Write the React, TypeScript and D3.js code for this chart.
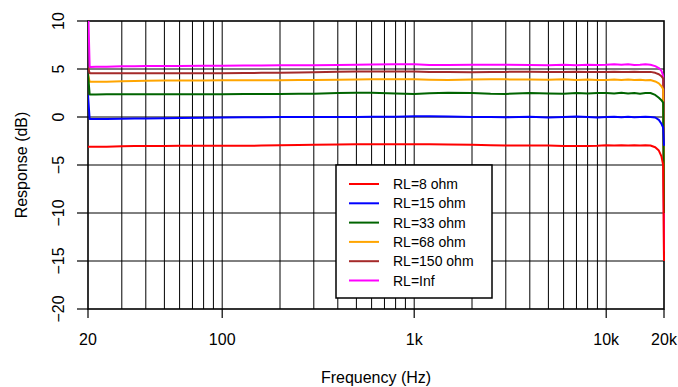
import React from "react";
import * as d3 from "d3";

const W = 678;
const H = 387;

const freqs = [20, 20.4, 22, 25, 30, 35, 40, 50, 60, 80, 100, 130, 160, 200, 250, 300, 400, 500, 600, 800, 1000, 1200, 1500, 2000, 2500, 3000, 4000, 5000, 6000, 7000, 8000, 9000, 10000, 11000, 12000, 13000, 14000, 15000, 16000, 17000, 18000, 18800, 19400, 19800, 20000];

const rl8 = [-3.1, -3.1, -3.1, -3.1, -3.05, -3.02, -3.02, -3.02, -3.0, -3.0, -3.0, -3.0, -2.98, -2.95, -2.92, -2.9, -2.86, -2.85, -2.85, -2.85, -2.85, -2.85, -2.86, -2.9, -2.95, -2.97, -2.97, -2.98, -3.02, -3.03, -3.03, -3.0, -2.95, -2.98, -2.93, -2.97, -2.95, -2.96, -2.93, -2.97, -3.15, -3.5, -4.1, -5.0, -15];
const rl15 = [2.3, -0.2, -0.2, -0.2, -0.18, -0.16, -0.15, -0.12, -0.1, -0.08, -0.05, -0.03, -0.02, 0.0, 0.0, 0.0, 0.0, 0.0, 0.02, 0.03, 0.07, 0.07, 0.06, 0.0, 0.0, -0.02, 0.02, -0.05, 0.0, 0.05, 0.0, -0.05, 0.0, 0.02, -0.03, 0.02, -0.02, 0.0, 0.02, 0.0, -0.05, -0.3, -0.7, -1.1, -3];
const rl33 = [4.5, 2.35, 2.35, 2.36, 2.36, 2.37, 2.37, 2.38, 2.38, 2.38, 2.38, 2.39, 2.4, 2.4, 2.41, 2.42, 2.5, 2.52, 2.53, 2.45, 2.4, 2.48, 2.52, 2.5, 2.42, 2.4, 2.5, 2.45, 2.42, 2.5, 2.45, 2.5, 2.5, 2.45, 2.52, 2.45, 2.5, 2.42, 2.5, 2.5, 2.3, 2.0, 1.75, 1.5, -10];
const rl68 = [4.45, 3.68, 3.68, 3.68, 3.72, 3.75, 3.78, 3.8, 3.8, 3.81, 3.82, 3.82, 3.83, 3.84, 3.85, 3.85, 3.88, 3.9, 3.92, 3.93, 3.93, 3.88, 3.85, 3.9, 3.92, 3.92, 3.9, 3.88, 3.92, 3.85, 3.9, 3.85, 3.85, 3.9, 3.85, 3.9, 3.85, 3.88, 3.82, 3.85, 3.7, 3.5, 3.2, 2.9, -9];
const rl150 = [5.2, 4.55, 4.55, 4.55, 4.55, 4.56, 4.56, 4.57, 4.57, 4.57, 4.57, 4.58, 4.6, 4.6, 4.63, 4.65, 4.72, 4.74, 4.75, 4.75, 4.75, 4.7, 4.68, 4.65, 4.68, 4.7, 4.72, 4.7, 4.68, 4.72, 4.68, 4.7, 4.68, 4.72, 4.68, 4.7, 4.72, 4.68, 4.7, 4.7, 4.6, 4.45, 4.25, 4.0, -8];
const rlInf = [12, 5.22, 5.23, 5.24, 5.28, 5.29, 5.3, 5.3, 5.32, 5.34, 5.35, 5.36, 5.37, 5.38, 5.39, 5.4, 5.42, 5.45, 5.48, 5.5, 5.5, 5.42, 5.42, 5.45, 5.45, 5.45, 5.42, 5.4, 5.45, 5.4, 5.45, 5.42, 5.45, 5.5, 5.45, 5.5, 5.42, 5.45, 5.5, 5.45, 5.3, 5.1, 4.8, 4.3, -14];

const seriesNames = ["RL=8 ohm", "RL=15 ohm", "RL=33 ohm", "RL=68 ohm", "RL=150 ohm", "RL=Inf"];
const seriesValues = [rl8, rl15, rl33, rl68, rl150, rlInf];
const seriesColors = ["#ff0000", "#0000ff", "#006400", "#ffa500", "#a52a2a", "#ff00ff"];

const xTickValues = [20, 100, 1000, 10000, 20000];
const xTickLabels = ["20", "100", "1k", "10k", "20k"];
const yTickValues = [10, 5, 0, -5, -10, -15, -20];
const yTickLabels = ["10", "5", "0", "\u22125", "\u221210", "\u221215", "\u221220"];
const gridFreqs = [30, 40, 50, 60, 70, 80, 90, 100, 200, 300, 400, 500, 600, 700, 800, 900, 1000, 2000, 3000, 4000, 5000, 6000, 7000, 8000, 9000, 10000];
const gridDb = [5, 0, -5, -10, -15];

const L = 88, R = 664, T = 21, B = 309;
const FONT = "'Liberation Sans', Arial, Helvetica, sans-serif";

export default function App() {
  const x = d3.scaleLog().domain([20, 20000]).range([L, R]);
  const y = d3.scaleLinear().domain([-20, 10]).range([B, T]);
  const line = d3
    .line<[number, number]>()
    .x((d) => x(d[0]))
    .y((d) => y(d[1]));

  const legX = 336, legY = 165, legW = 156, legH = 133;
  const rowY = (i: number) => legY + 19 + i * 19.3;

  const drawOrder = [5, 4, 3, 2, 1, 0];

  return (
    <svg
      width={W}
      height={H}
      style={{ position: "absolute", left: 0, top: 0, background: "#fff" }}
      fontFamily={FONT}
    >
      <defs>
        <clipPath id="plotclip">
          <rect x={L} y={T} width={R - L + 2} height={B - T} />
        </clipPath>
      </defs>
      <rect x={0} y={0} width={W} height={H} fill="#fff" />
      {/* grid */}
      {gridFreqs.map((f) => (
        <line key={"gv" + f} x1={x(f)} x2={x(f)} y1={T} y2={B} stroke="#000" strokeWidth={1} />
      ))}
      {gridDb.map((v) => (
        <line key={"gh" + v} x1={L} x2={R} y1={y(v)} y2={y(v)} stroke="#000" strokeWidth={1} />
      ))}
      {/* frame */}
      <rect x={L} y={T} width={R - L} height={B - T} fill="none" stroke="#000" strokeWidth={1.6} />
      {/* y ticks */}
      {yTickValues.map((v, i) => (
        <g key={"yt" + v}>
          <line x1={77} x2={L} y1={y(v)} y2={y(v)} stroke="#000" strokeWidth={1.2} />
          <text
            x={64}
            y={y(v)}
            transform={`rotate(-90, 64, ${y(v)})`}
            textAnchor="middle"
            fontSize={16}
            fill="#000"
          >
            {yTickLabels[i]}
          </text>
        </g>
      ))}
      {/* x ticks */}
      {xTickValues.map((v, i) => (
        <g key={"xt" + v}>
          <line x1={x(v)} x2={x(v)} y1={B} y2={318} stroke="#000" strokeWidth={1.2} />
          <text x={x(v)} y={345} textAnchor="middle" fontSize={16} fill="#000">
            {xTickLabels[i]}
          </text>
        </g>
      ))}
      {/* axis titles */}
      <text x={(L + R) / 2} y={383} textAnchor="middle" fontSize={16} fill="#000">
        Frequency (Hz)
      </text>
      <text
        x={27}
        y={(T + B) / 2}
        transform={`rotate(-90, 27, ${(T + B) / 2})`}
        textAnchor="middle"
        fontSize={16}
        fill="#000"
      >
        Response (dB)
      </text>
      {/* legend */}
      <rect x={legX} y={legY} width={legW} height={legH} fill="#fff" stroke="#000" strokeWidth={1.5} />
      {seriesNames.map((n, i) => (
        <g key={"lg" + i}>
          <line x1={349} x2={379} y1={rowY(i)} y2={rowY(i)} stroke={seriesColors[i]} strokeWidth={2} />
          <text x={393} y={rowY(i)} dominantBaseline="central" fontSize={14} fill="#000">
            {n}
          </text>
        </g>
      ))}
      {/* data */}
      <g clipPath="url(#plotclip)">
        {drawOrder.map((i) => (
          <path
            key={"s" + i}
            d={line(freqs.map((f, k) => [f, seriesValues[i][k]] as [number, number])) || ""}
            fill="none"
            stroke={seriesColors[i]}
            strokeWidth={2}
            strokeLinejoin="round"
          />
        ))}
      </g>
    </svg>
  );
}
